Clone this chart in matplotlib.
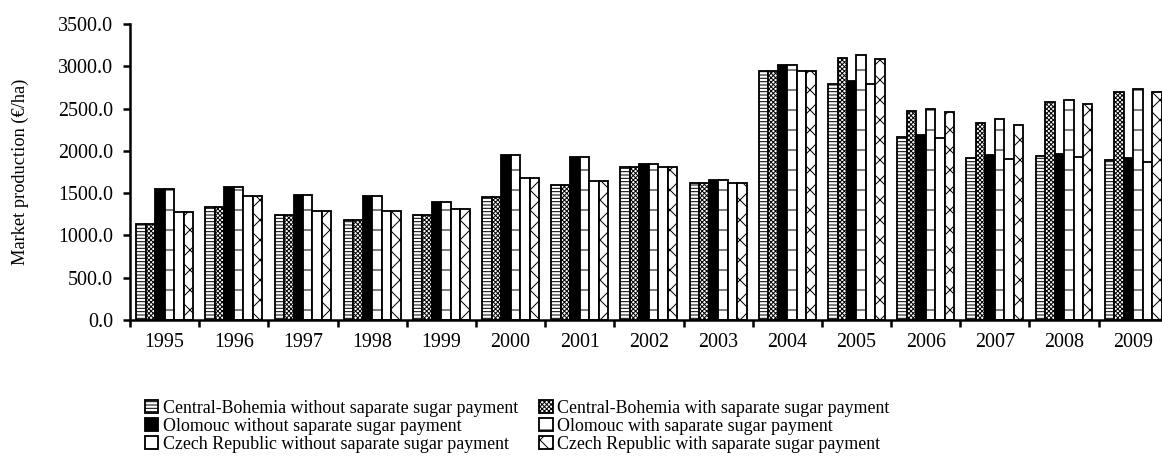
import numpy as np
import matplotlib
matplotlib.use('Agg')
import matplotlib.pyplot as plt
from matplotlib.ticker import FixedLocator, FormatStrFormatter

years = ['1995', '1996', '1997', '1998', '1999', '2000', '2001', '2002',
         '2003', '2004', '2005', '2006', '2007', '2008', '2009']

# market production in EUR/ha, one list per region / payment scheme
cb_without = [1135, 1340, 1245, 1180, 1245, 1454, 1596, 1808, 1623, 2947, 2793, 2159, 1919, 1938, 1887]
cb_with    = [1135, 1340, 1245, 1180, 1245, 1454, 1596, 1808, 1623, 2947, 3093, 2467, 2332, 2573, 2695]
ol_without = [1545, 1572, 1481, 1465, 1393, 1947, 1931, 1844, 1659, 3018, 2829, 2183, 1954, 1966, 1918]
ol_with    = [1545, 1572, 1481, 1465, 1393, 1947, 1931, 1844, 1659, 3018, 3129, 2494, 2372, 2600, 2734]
cz_without = [1280, 1466, 1288, 1285, 1312, 1675, 1647, 1805, 1616, 2947, 2786, 2148, 1899, 1923, 1871]
cz_with    = [1280, 1466, 1288, 1285, 1312, 1675, 1647, 1805, 1616, 2947, 3085, 2459, 2305, 2553, 2691]

labels = ['Central-Bohemia without saparate sugar payment',
          'Central-Bohemia with saparate sugar payment',
          'Olomouc without saparate sugar payment',
          'Olomouc with saparate sugar payment',
          'Czech Republic without saparate sugar payment',
          'Czech Republic with saparate sugar payment']

series = [cb_without, cb_with, ol_without, ol_with, cz_without, cz_with]
styles = [dict(facecolor='white', hatch='------'),
          dict(facecolor='white', hatch='xxxxxxxxx'),
          dict(facecolor='black', hatch=None),
          dict(facecolor='white', hatch='-'),
          dict(facecolor='white', hatch=None),
          dict(facecolor='white', hatch='xx')]

plt.rcParams['font.family'] = ['Liberation Serif', 'DejaVu Serif']
plt.rcParams['hatch.linewidth'] = 0.6
plt.rcParams['font.size'] = 12

dpi = 120
fig = plt.figure(figsize=(1162 / dpi, 469 / dpi), dpi=dpi)
ax = fig.add_axes([0.1119, 0.3177, 0.8931, 0.6311])

x = np.arange(len(years))
w = 0.137
handles = []
for k, (vals, st) in enumerate(zip(series, styles)):
    b = ax.bar(x + (k - 2.5) * w, vals, w, edgecolor='black', linewidth=1.1,
               label=labels[k], **st)
    handles.append(b)

ax.set_xlim(-0.5, len(years) - 0.5)
ax.set_ylim(0, 3500)
ax.set_yticks(np.arange(0, 3501, 500))
ax.yaxis.set_major_formatter(FormatStrFormatter('%.1f'))
ax.set_xticks(x)
ax.set_xticklabels(years)
ax.xaxis.set_minor_locator(FixedLocator(np.arange(-0.5, len(years), 1.0)))
ax.tick_params(axis='x', which='major', length=0, pad=8)
ax.tick_params(axis='x', which='minor', length=4, width=1.5, direction='out')
ax.tick_params(axis='y', length=4, width=1.5, direction='out', pad=6)
for s in ['top', 'right']:
    ax.spines[s].set_visible(False)
for s in ['left', 'bottom']:
    ax.spines[s].set_linewidth(1.5)
ax.set_ylabel('Market production (€/ha)', fontsize=11)
ax.yaxis.set_label_coords(-0.097, 0.5)

order = [0, 2, 4, 1, 3, 5]
fig.legend([handles[i] for i in order], [labels[i] for i in order],
           ncol=2, frameon=False, loc='upper left', bbox_to_anchor=(0.117, 0.166),
           fontsize=10.7, handlelength=0.75, handleheight=0.75, handletextpad=0.25,
           columnspacing=1.2, labelspacing=0.05, borderpad=0)

fig.savefig('out.png', dpi=dpi)
